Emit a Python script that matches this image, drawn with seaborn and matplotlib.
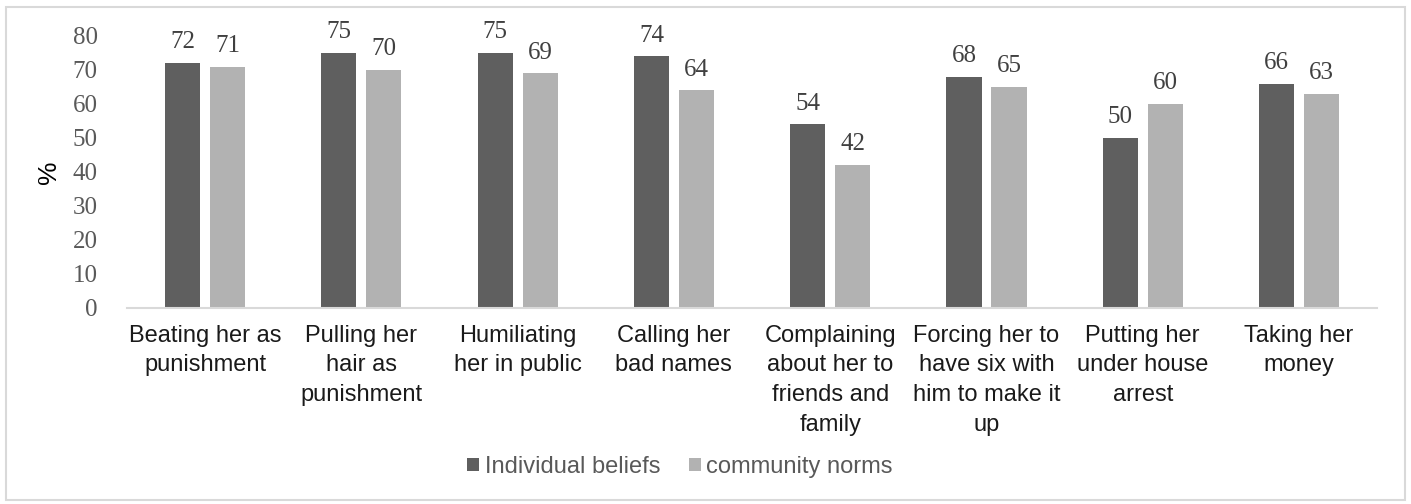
import matplotlib
matplotlib.use("Agg")
import matplotlib.pyplot as plt
import seaborn as sns
import pandas as pd
from matplotlib.patches import Patch, Rectangle

categories = [
    "Beating her as\npunishment",
    "Pulling her\nhair as\npunishment",
    "Humiliating\nher in public",
    "Calling her\nbad names",
    "Complaining\nabout her to\nfriends and\nfamily",
    "Forcing her to\nhave six with\nhim to make it\nup",
    "Putting her\nunder house\narrest",
    "Taking her\nmoney",
]
individual_beliefs = [72, 75, 75, 74, 54, 68, 50, 66]
community_norms = [71, 70, 69, 64, 42, 65, 60, 63]
series_names = ["Individual beliefs", "community norms"]
y_ticks = [0, 10, 20, 30, 40, 50, 60, 70, 80]

df = pd.DataFrame({
    "category": categories * 2,
    "value": individual_beliefs + community_norms,
    "series": [series_names[0]] * len(categories) + [series_names[1]] * len(categories),
})

sns.set_theme(style="white")
plt.rcParams["font.family"] = ["Liberation Sans", "DejaVu Sans"]

colors = ["#5f5f5f", "#b2b2b2"]
serif = ["Liberation Serif", "DejaVu Serif"]

fig = plt.figure(figsize=(14.11, 5.04), dpi=100)
ax = fig.add_axes([0.090, 0.389, 0.886, 0.5396])

sns.barplot(data=df, x="category", y="value", hue="series", order=categories,
            hue_order=series_names, palette=colors, width=0.576, gap=0.22,
            saturation=1, ax=ax, legend=False, edgecolor="none", linewidth=0)

for cont in ax.containers:
    ax.bar_label(cont, padding=7, fontsize=18, color="#404040", family=serif)

ax.set_ylim(0, 80)
ax.set_yticks(y_ticks)
ax.set_yticklabels([str(t) for t in y_ticks], family=serif, fontsize=18, color="#595959")
ax.tick_params(axis="y", length=0, pad=21)
ax.tick_params(axis="x", length=0, pad=12, labelsize=17, labelcolor="#1a1a1a")
for lbl in ax.get_xticklabels():
    lbl.set_linespacing(1.45)
ax.set_xlabel("")
ax.set_ylabel("%", fontsize=19, color="#000000")
ax.yaxis.set_label_coords(-0.053, 0.5)
for s in ["top", "right", "left"]:
    ax.spines[s].set_visible(False)
ax.spines["bottom"].set_color("#d9d9d9")
ax.spines["bottom"].set_linewidth(1.5)
ax.grid(False)

handles = [Patch(facecolor=c, edgecolor="none") for c in colors]
fig.legend(handles, series_names, loc="center", bbox_to_anchor=(0.482, 0.074),
           ncol=2, frameon=False, fontsize=17, labelcolor="#595959",
           handlelength=0.5, handleheight=0.5, handletextpad=0.25, columnspacing=1.2)

fig.patches.append(Rectangle((6 / 1411, 4 / 504), 1399 / 1411, 493 / 504,
                             transform=fig.transFigure, fill=False,
                             edgecolor="#d9d9d9", linewidth=1.5))

fig.savefig("out.png", dpi=100)
